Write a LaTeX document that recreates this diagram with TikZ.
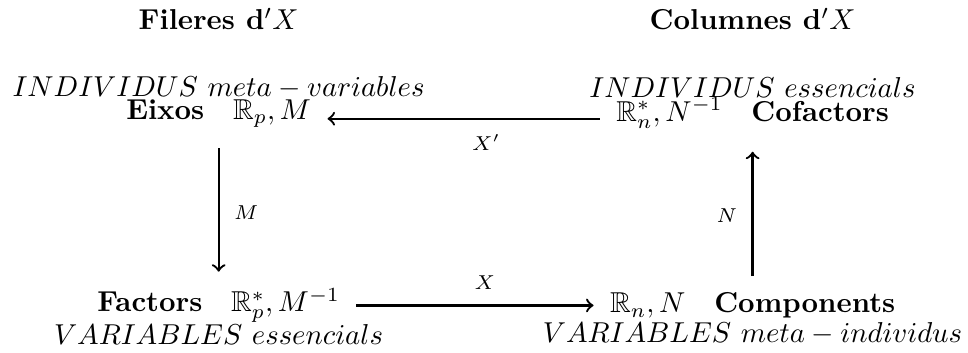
\documentclass[tikz,border=0pt]{standalone}
\usepackage{amsmath}
\usepackage{amsfonts}
\usepackage{tikz}
\usetikzlibrary{positioning, arrows}

\begin{document}
\begin{tikzpicture}[shorten >=2pt, shorten <=2pt, node distance=6.52cm, on grid, auto, thick]
    \useasboundingbox (0,0) rectangle (11.82,-4.31);
    \node[text depth=6.3pt] (eixos) at (2.67,-1.45) {\textbf{Eixos}\quad $\mathbb{R}_p, M$};
    \node[text depth=6.3pt] (cofac) [right=of eixos] {$\mathbb{R}^*_n, N^{-1}$\quad \textbf{Cofactors}};
    \node (factors) [below=2.28cm of eixos] {\textbf{Factors}\quad $\mathbb{R}^*_p, M^{-1}$};
    \node (compon) [below=2.28cm of cofac] {$\mathbb{R}_n, N$\quad \textbf{Components}};

    \node (indmeta) [above=0.38cm of eixos] {$INDIVIDUS\ meta-variables$};
    \node (indess) [above=0.38cm of cofac] {$INDIVIDUS\ essencials$};
    \node (varess) [below=0.35cm of factors] {$VARIABLES\ essencials$};
    \node (varmeta) [below=0.35cm of compon] {$VARIABLES\ meta-individus$};

    \node (fileres) [above=0.84cm of indmeta] {\textbf{Fileres d$'X$}};
    \node (columnes) [above=0.84cm of indess] {\textbf{Columnes d$'X$}};

    \path[->, font=\scriptsize, every node/.style={inner sep=5pt}]
        (cofac) edge node[pos=0.42] {$X'$} (eixos)
        (eixos) edge[shorten <=0pt] node {$M$} (factors)
        (factors) edge node[pos=0.54] {$X$} (compon)
        (compon) edge[shorten >=0.5pt] node {$N$} (cofac);
\end{tikzpicture}
\end{document}
